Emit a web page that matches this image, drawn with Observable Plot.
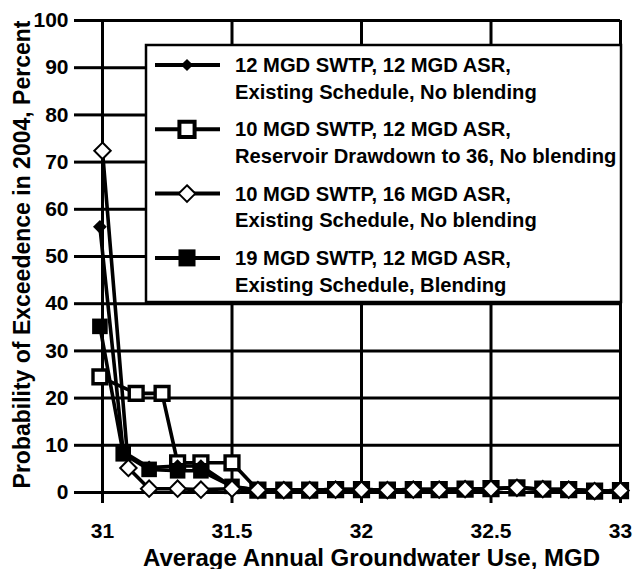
<!DOCTYPE html>
<html><head><meta charset="utf-8">
<script src="https://cdn.jsdelivr.net/npm/d3@7"></script>
<script src="https://cdn.jsdelivr.net/npm/@observablehq/plot@0.6"></script>
<style>
body{margin:0;background:#fff}
#chart{position:relative;width:634px;height:569px}
</style>
</head><body><div id="chart"></div>
<script>
// ---- data ----
const seriesNames = [
  ["12 MGD SWTP, 12 MGD ASR,", "Existing Schedule, No blending"],
  ["10 MGD SWTP, 12 MGD ASR,", "Reservoir Drawdown to 36, No blending"],
  ["10 MGD SWTP, 16 MGD ASR,", "Existing Schedule, No blending"],
  ["19 MGD SWTP, 12 MGD ASR,", "Existing Schedule, Blending"]
];
const xTail = [31.6, 31.7, 31.8, 31.9, 32.0, 32.1, 32.2, 32.3, 32.4, 32.5, 32.6, 32.7, 32.8, 32.9, 33.0];
const yTail = [0.5, 0.5, 0.5, 0.6, 0.6, 0.5, 0.6, 0.6, 0.7, 0.8, 1.0, 0.7, 0.6, 0.3, 0.4];

const xA = [30.99, 31.08, 31.18, 31.29, 31.38, 31.5];
const yA = [56.3, 8.6, 5.3, 5.6, 5.6, 1.2];
const xB = [30.99, 31.13, 31.23, 31.29, 31.38, 31.5];
const yB = [24.5, 21.0, 21.0, 6.3, 6.3, 6.3];
const xC = [31.0, 31.1, 31.18, 31.29, 31.38, 31.5];
const yC = [72.4, 5.2, 0.8, 0.8, 0.6, 0.8];
const xD = [30.99, 31.08, 31.18, 31.29, 31.38, 31.5];
const yD = [35.2, 8.2, 4.9, 4.6, 4.6, 1.3];

const xTicks = [31, 31.5, 32, 32.5, 33];
const xTickLabels = ["31", "31.5", "32", "32.5", "33"];
const yTicks = [0, 10, 20, 30, 40, 50, 60, 70, 80, 90, 100];
const xLabel = "Average Annual Groundwater Use, MGD";
const yLabel = "Probability of Exceedence in 2004, Percent";

// ---- build rows ----
function rows(xs, ys) {
  const yy = ys.concat(yTail);
  return xs.concat(xTail).map((x, i) => ({x, y: yy[i]}));
}
const A = rows(xA, yA), B = rows(xB, yB), C = rows(xC, yC), D = rows(xD, yD);

const fontFamily = "'Liberation Sans', Arial, Helvetica, sans-serif";
const lineW = 3.6;

const plot = Plot.plot({
  width: 634, height: 569,
  marginLeft: 102, marginRight: 14, marginTop: 20, marginBottom: 77,
  style: {fontFamily, fontWeight: "bold", fontSize: "21px", color: "black", background: "white", overflow: "visible"},
  x: {domain: [31, 33]},
  y: {domain: [0, 100]},
  marks: [
    Plot.gridX(xTicks, {stroke: "black", strokeOpacity: 1, strokeWidth: 3}),
    Plot.gridY(yTicks, {stroke: "black", strokeOpacity: 1, strokeWidth: 3}),
    Plot.axisX(xTicks, {tickSize: 11, tickPadding: 20, strokeWidth: 3, label: null, fontSize: 21, fontWeight: "bold",
      tickFormat: d => xTickLabels[xTicks.indexOf(d)]}),
    Plot.axisY(yTicks, {tickSize: 28, tickPadding: 6, strokeWidth: 3, label: null, fontSize: 21, fontWeight: "bold"}),
    // open square series
    Plot.line(B, {x: "x", y: "y", stroke: "black", strokeWidth: lineW}),
    Plot.dot(B, {x: "x", y: "y", symbol: "square", r: 7.8, fill: "white", stroke: "black", strokeWidth: 3.4}),
    // filled diamond series
    Plot.line(A, {x: "x", y: "y", stroke: "black", strokeWidth: lineW}),
    Plot.dot(A, {x: "x", y: "y", symbol: "diamond2", r: 6.2, fill: "black", stroke: "none"}),
    // filled square series
    Plot.line(D, {x: "x", y: "y", stroke: "black", strokeWidth: lineW}),
    Plot.dot(D, {x: "x", y: "y", symbol: "square", r: 8.8, fill: "black", stroke: "none"}),
    // open diamond series
    Plot.line(C, {x: "x", y: "y", stroke: "black", strokeWidth: lineW}),
    Plot.dot(C, {x: "x", y: "y", symbol: "diamond2", r: 7.4, fill: "white", stroke: "black", strokeWidth: 2}),
    // axis titles
    Plot.text([xLabel], {frameAnchor: "bottom", lineAnchor: "middle", textAnchor: "middle", dy: 65.5, dx: 10, fontSize: 24, fontWeight: "bold", fill: "black"}),
    Plot.text([yLabel], {frameAnchor: "left", lineAnchor: "middle", textAnchor: "middle", rotate: -90, dx: -80, dy: -2, fontSize: 23, fontWeight: "bold", fill: "black"})
  ]
});
document.getElementById("chart").appendChild(plot);

// ---- legend ----
const svg = d3.select(plot);
const lg = svg.append("g").attr("font-family", fontFamily).attr("font-weight", "bold")
  .attr("font-size", 20.2).attr("text-anchor", "start");
lg.append("rect").attr("x", 146).attr("y", 45).attr("width", 475).attr("height", 257)
  .attr("fill", "white").attr("stroke", "black").attr("stroke-width", 2.5);
const legendSymbols = [
  {type: d3.symbolDiamond2, size: 95, fill: "black", stroke: "none", sw: 0},
  {type: d3.symbolSquare, size: 230, fill: "white", stroke: "black", sw: 4},
  {type: d3.symbolDiamond2, size: 175, fill: "white", stroke: "black", sw: 2},
  {type: d3.symbolSquare, size: 290, fill: "black", stroke: "none", sw: 0}
];
seriesNames.forEach((lines, i) => {
  const y0 = 65 + i * 64.3;
  lg.append("line").attr("x1", 155).attr("x2", 220).attr("y1", y0).attr("y2", y0)
    .attr("stroke", "black").attr("stroke-width", 4);
  const s = legendSymbols[i];
  lg.append("path").attr("d", d3.symbol(s.type, s.size)())
    .attr("transform", `translate(187,${y0})`)
    .attr("fill", s.fill).attr("stroke", s.stroke).attr("stroke-width", s.sw);
  lines.forEach((t, j) => {
    lg.append("text").attr("x", 235).attr("y", y0 + j * 26.7).attr("dy", "0.35em")
      .attr("text-anchor", "start").attr("fill", "black").text(t);
  });
});
</script>
</body></html>
